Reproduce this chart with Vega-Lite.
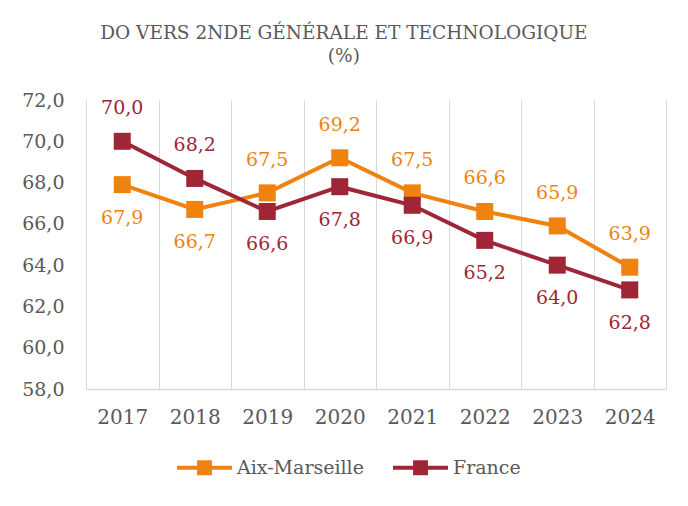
{
  "$schema": "https://vega.github.io/schema/vega-lite/v6.json",
  "width": 580,
  "height": 289,
  "autosize": "none",
  "padding": {"left": 86, "top": 100, "right": 22, "bottom": 117},
  "background": "white",
  "config": {
    "locale": {"number": {"decimal": ",", "thousands": " ", "grouping": [3], "currency": ["", " €"]}},
    "view": {"stroke": null},
    "font": "DejaVu Serif"
  },
  "title": {
    "text": ["DO VERS 2NDE GÉNÉRALE ET TECHNOLOGIQUE", "(%)"],
    "font": "DejaVu Serif",
    "fontSize": 18.5,
    "fontWeight": "normal",
    "color": "#595959",
    "anchor": "middle",
    "frame": "bounds",
    "lineHeight": 23,
    "offset": 26
  },
  "data": {
    "values": [
      {"year": "2017", "series": "Aix-Marseille", "value": 67.9},
      {"year": "2018", "series": "Aix-Marseille", "value": 66.7},
      {"year": "2019", "series": "Aix-Marseille", "value": 67.5},
      {"year": "2020", "series": "Aix-Marseille", "value": 69.2},
      {"year": "2021", "series": "Aix-Marseille", "value": 67.5},
      {"year": "2022", "series": "Aix-Marseille", "value": 66.6},
      {"year": "2023", "series": "Aix-Marseille", "value": 65.9},
      {"year": "2024", "series": "Aix-Marseille", "value": 63.9},
      {"year": "2017", "series": "France", "value": 70.0},
      {"year": "2018", "series": "France", "value": 68.2},
      {"year": "2019", "series": "France", "value": 66.6},
      {"year": "2020", "series": "France", "value": 67.8},
      {"year": "2021", "series": "France", "value": 66.9},
      {"year": "2022", "series": "France", "value": 65.2},
      {"year": "2023", "series": "France", "value": 64.0},
      {"year": "2024", "series": "France", "value": 62.8}
    ]
  },
  "transform": [
    {"joinaggregate": [{"op": "max", "field": "value", "as": "maxv"}], "groupby": ["year"]},
    {"calculate": "datum.value == datum.maxv", "as": "isTop"}
  ],
  "encoding": {
    "x": {
      "field": "year",
      "type": "ordinal",
      "bandPosition": 0.5,
      "scale": {"type": "band", "paddingInner": 0, "paddingOuter": 0},
      "axis": {
        "title": null,
        "labelAngle": 0,
        "tickBand": "extent",
        "grid": true,
        "gridColor": "#d9d9d9",
        "gridWidth": 1,
        "ticks": false,
        "domainColor": "#d9d9d9",
        "domainWidth": 1.5,
        "labelFont": "DejaVu Serif",
        "labelFontSize": 20,
        "labelColor": "#595959",
        "labelPadding": 18
      }
    },
    "y": {
      "field": "value",
      "type": "quantitative",
      "scale": {"domain": [58, 72], "nice": false, "zero": false},
      "axis": {
        "title": null,
        "values": [58, 60, 62, 64, 66, 68, 70, 72],
        "format": ".1f",
        "grid": false,
        "domain": false,
        "ticks": false,
        "labelFont": "DejaVu Serif",
        "labelFontSize": 19,
        "labelColor": "#595959",
        "labelPadding": 22
      }
    },
    "color": {
      "field": "series",
      "type": "nominal",
      "scale": {"domain": ["Aix-Marseille", "France"], "range": ["#F08210", "#9E2636"]},
      "legend": {
        "title": null,
        "orient": "none",
        "direction": "horizontal",
        "legendX": 91,
        "legendY": 340,
        "symbolType": "M-1,-0.073H1V0.073H-1Z M-0.27,-0.27H0.27V0.27H-0.27Z",
        "symbolSize": 3025,
        "symbolStrokeWidth": 0,
        "labelFont": "DejaVu Serif",
        "labelFontSize": 19,
        "labelColor": "#595959",
        "labelOffset": 5,
        "columnPadding": 29,
        "encode": {"symbols": {"update": {"fill": {"scale": "color", "field": "value"}, "opacity": {"value": 1}}}}
      }
    }
  },
  "layer": [
    {"mark": {"type": "line", "strokeWidth": 4}},
    {"mark": {"type": "square", "size": 289, "filled": true, "opacity": 1}},
    {
      "transform": [{"filter": "datum.isTop"}],
      "mark": {"type": "text", "dy": -33, "baseline": "middle", "font": "DejaVu Serif", "fontSize": 19},
      "encoding": {"text": {"field": "value", "type": "quantitative", "format": ".1f"}}
    },
    {
      "transform": [{"filter": "!datum.isTop"}],
      "mark": {"type": "text", "dy": 33, "baseline": "middle", "font": "DejaVu Serif", "fontSize": 19},
      "encoding": {"text": {"field": "value", "type": "quantitative", "format": ".1f"}}
    }
  ]
}
